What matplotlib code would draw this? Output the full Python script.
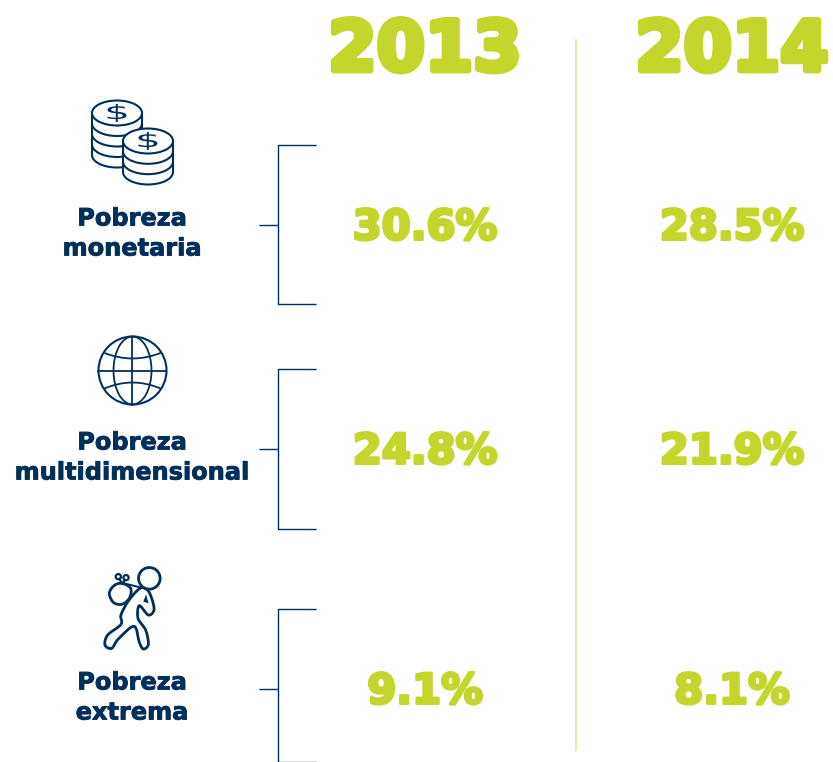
import numpy as np
import matplotlib
matplotlib.use("Agg")
import matplotlib.pyplot as plt
import matplotlib.patheffects as pe
from matplotlib.patches import Arc, Circle, Ellipse, PathPatch, Rectangle
from matplotlib.path import Path
from matplotlib.textpath import TextPath
from matplotlib.transforms import Affine2D

# datos
years = ["2013", "2014"]
categories = [["Pobreza", "monetaria"], ["Pobreza", "multidimensional"], ["Pobreza", "extrema"]]
values_2013 = [30.6, 24.8, 9.1]
values_2014 = [28.5, 21.9, 8.1]

GREEN = "#C4D52B"
NAVY = "#002F5C"
DIVIDER = "#DDE3A0"

year_x = [425, 732]
row_mid = [225, 449, 689]
row_top = [145, 369, 609]
row_bottom = [304, 529, 762]
label_y = [[216, 246], [440, 470], [680, 710]]

plt.rcParams["font.family"] = ["DejaVu Sans"]

fig = plt.figure(figsize=(8.33, 7.62), dpi=100)
ax = fig.add_axes([0, 0, 1, 1])
ax.set_xlim(0, 833)
ax.set_ylim(762, 0)
ax.axis("off")


def heavy(w, color=GREEN):
    return [pe.withStroke(linewidth=w, foreground=color)]


# encabezados
for x, year in zip(year_x, years):
    ax.text(x, 44, year, color=GREEN, fontsize=50, fontweight="bold", ha="center",
            va="center_baseline", path_effects=heavy(4.2))

# divisor
ax.plot([576, 576], [40, 750], color=DIVIDER, lw=1.2)

# columnas de valores
for x, vals in zip(year_x, [values_2013, values_2014]):
    for y, v in zip(row_mid, vals):
        ax.text(x, y - 2, f"{v}%", color=GREEN, fontsize=30, fontweight="bold", ha="center",
                va="center_baseline", path_effects=heavy(2.2))

# llaves
for top, mid, bottom in zip(row_top, row_mid, row_bottom):
    ax.plot([316, 278, 278, 316], [top, top, bottom, bottom], color=NAVY, lw=1.0,
            solid_capstyle="butt")
    ax.plot([259, 278], [mid, mid], color=NAVY, lw=1.0, solid_capstyle="butt")

# etiquetas
for lines, ys in zip(categories, label_y):
    for line, y in zip(lines, ys):
        ax.text(132, y, line, color=NAVY, fontsize=17.3, fontweight="bold", ha="center",
                va="center_baseline", path_effects=heavy(0.6, NAVY))


def coin_stack(cx, top, bottom, rx, ry, n, z):
    # cuerpo del cilindro con bandas
    ys = np.linspace(top, bottom, n + 1)
    ax.add_patch(Rectangle((cx - rx, top), 2 * rx, bottom - top, fc="white", ec="none", zorder=z))
    ax.add_patch(Ellipse((cx, bottom), 2 * rx, 2 * ry, fc="white", ec="none", zorder=z))
    ax.plot([cx - rx, cx - rx], [top, bottom], color=NAVY, lw=1.5, zorder=z + 0.1)
    ax.plot([cx + rx, cx + rx], [top, bottom], color=NAVY, lw=1.5, zorder=z + 0.1)
    for y in ys[1:]:
        ax.add_patch(Arc((cx, y), 2 * rx, 2 * ry, theta1=0, theta2=180, color=NAVY, lw=1.5,
                         zorder=z + 0.1))
    ax.add_patch(Ellipse((cx, top), 2 * rx, 2 * ry, fc="white", ec=NAVY, lw=1.5, zorder=z + 0.2))
    # signo ensanchado, como en el icono original
    glyph = TextPath((0, 0), "$", size=20)
    box = glyph.get_extents()
    tr = (Affine2D().translate(-box.x0 - box.width / 2, -box.y0 - box.height / 2)
          .scale(19 / box.width, -18 / box.height).translate(cx, top))
    ax.add_patch(PathPatch(tr.transform_path(glyph), fc=NAVY, ec="none", zorder=z + 0.3))


coin_stack(117, 113, 155, 25, 12.5, 4, 3)
coin_stack(148, 141, 172, 25, 12.5, 3, 4)

# globo
gx, gy, gr = 132.5, 370.5, 34
ax.add_patch(Circle((gx, gy), gr, fc="white", ec=NAVY, lw=1.5))
ax.add_patch(Ellipse((gx, gy), 38, 2 * gr, fc="none", ec=NAVY, lw=1.3))
ax.plot([gx, gx], [gy - gr, gy + gr], color=NAVY, lw=1.3)
ax.plot([gx - gr, gx + gr], [gy, gy], color=NAVY, lw=1.3)
for end_y, ctrl_y in [(-17.5, -6.5), (18, 6)]:
    lat = Path([(gx - 28, gy + end_y), (gx, gy + ctrl_y), (gx + 28, gy + end_y)],
               [Path.MOVETO, Path.CURVE3, Path.CURVE3])
    ax.add_patch(PathPatch(lat, fc="none", ec=NAVY, lw=1.3))


def zx(pts):
    pts = np.array(pts, dtype=float)
    return np.column_stack([pts[:, 0] / 3 + 60, pts[:, 1] / 3 + 555])


def smooth_closed(pts):
    n = len(pts)
    verts = [pts[0]]
    codes = [Path.MOVETO]
    for i in range(n):
        p0, p1, p2, p3 = pts[i - 1], pts[i], pts[(i + 1) % n], pts[(i + 2) % n]
        verts += [p1 + (p2 - p0) / 6, p2 - (p3 - p1) / 6, p2]
        codes += [Path.CURVE4] * 3
    return Path(verts, codes)


# persona con bulto
bag = zx([(185, 85), (212, 100), (208, 130), (185, 148), (160, 142), (148, 115), (162, 92)])
ax.add_patch(PathPatch(smooth_closed(bag), fc="white", ec=NAVY, lw=2.0, zorder=3))
for kx, ky in zx([(175, 65), (198, 68)]):
    ax.add_patch(Circle((kx, ky), 2.6, fc="white", ec=NAVY, lw=1.6, zorder=3))
for seg in [[(178, 72), (187, 86)], [(195, 75), (187, 86)]]:
    s = zx(seg)
    ax.plot(s[:, 0], s[:, 1], color=NAVY, lw=1.6, zorder=3)
strap = zx([(192, 85), (240, 97)])
ax.plot(strap[:, 0], strap[:, 1], color=NAVY, lw=1.4, zorder=3)
body = zx([(240, 100), (205, 138), (183, 180), (183, 208), (143, 240), (135, 270), (155, 280),
           (175, 252), (222, 214), (238, 262), (250, 282), (265, 268), (257, 225), (234, 190),
           (238, 152), (265, 180), (282, 165), (275, 130), (262, 105)])
ax.add_patch(PathPatch(smooth_closed(body), fc="white", ec=NAVY, lw=2.0, zorder=4))
hx, hy = zx([(268, 70)])[0]
ax.add_patch(Circle((hx, hy), 10.8, fc="white", ec=NAVY, lw=2.0, zorder=5))
notch = zx([(258, 118), (250, 140), (266, 145)])
ax.add_patch(PathPatch(Path(np.vstack([notch, notch[:1]]), closed=True), fc=NAVY, ec="none", zorder=5))

fig.savefig("out.png", dpi=100, facecolor="white")
